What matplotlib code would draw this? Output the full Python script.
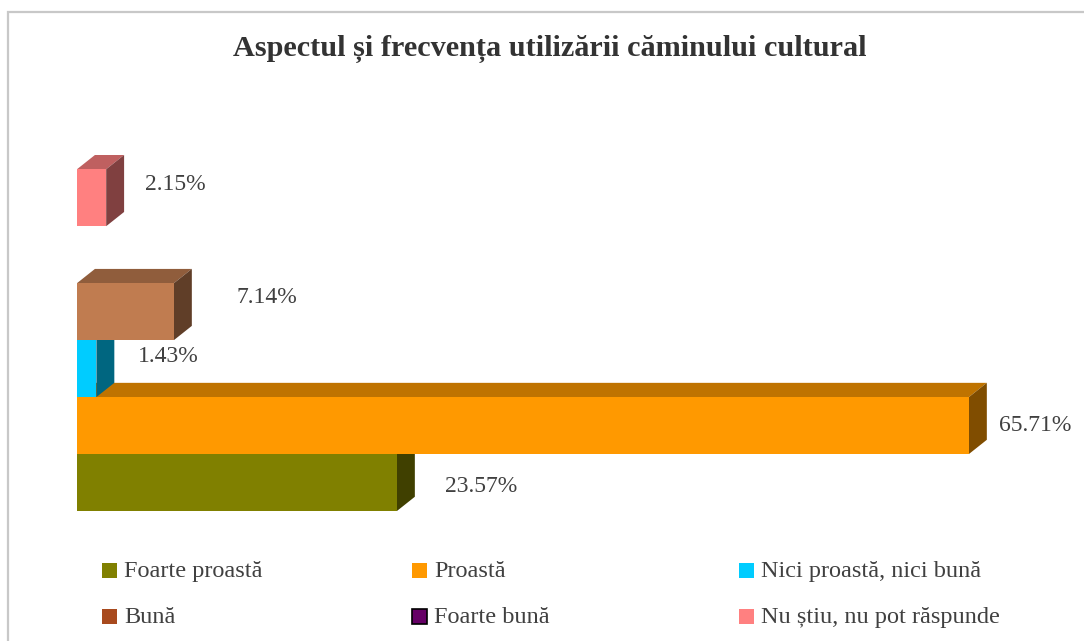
import matplotlib.pyplot as plt
from matplotlib.patches import Polygon, Rectangle
from matplotlib.colors import to_rgb

plt.rcParams['font.family'] = ['Liberation Serif', 'DejaVu Serif']

# data
categories = ['Foarte proastă', 'Proastă', 'Nici proastă, nici bună',
              'Bună', 'Foarte bună', 'Nu știu, nu pot răspunde']
values = [23.57, 65.71, 1.43, 7.14, 0.0, 2.15]
labels = ['23.57%', '65.71%', '1.43%', '7.14%', '', '2.15%']

colors = ['#808000', '#FF9900', '#00CCFF', '#C07C50', '#660066', '#FF8080']
legend_colors = ['#808000', '#FF9900', '#00CCFF', '#A84A1E', '#660066', '#FF8080']
# label shift from the end of the 3d bar, in pixels
label_shift = [(30, -4), (12, 0), (24, 12), (45, 14), (0, 0), (21, 13)]

W, H = 1084, 641
fig = plt.figure(figsize=(W / 100, H / 100), dpi=100)

# chart frame
fig.add_artist(Rectangle((8 / W, -0.2), 1.2, 1.2 - 12 / H, transform=fig.transFigure,
                         fill=False, edgecolor='#c8c8c8', lw=1.6))

fig.text(0.507, 1 - 49 / H, 'Aspectul și frecvența utilizării căminului cultural',
         ha='center', va='center', fontsize=21.8, fontweight='bold', color='#333333')

# plot area in pixels
left, right, bottom, top = 77, 1000, 511, 155
ax = fig.add_axes([left / W, (H - bottom) / H, (right - left) / W, (bottom - top) / H])
ax.set_xlim(0, 68)
ax.set_ylim(-0.5, 5.75)
ax.axis('off')

dx, dy = 1.32, 0.25   # depth of the 3d bars
h = 1.0


def shade(c, f):
    r, g, b = to_rgb(c)
    return (r * f, g * f, b * f)


for i, (v, c) in enumerate(zip(values, colors)):
    if v <= 0:
        continue
    y0, y1 = i - h / 2, i + h / 2
    ax.add_patch(Polygon([(0, y1), (v, y1), (v + dx, y1 + dy), (dx, y1 + dy)],
                         closed=True, facecolor=shade(c, 0.75), edgecolor='none',
                         clip_on=False, zorder=2 * i + 1))
    ax.add_patch(Polygon([(v, y0), (v + dx, y0 + dy), (v + dx, y1 + dy), (v, y1)],
                         closed=True, facecolor=shade(c, 0.5), edgecolor='none',
                         clip_on=False, zorder=2 * i + 1))
    ax.add_patch(Rectangle((0, y0), v, h, facecolor=c, edgecolor='none',
                           clip_on=False, zorder=2 * i + 2))
    ax.annotate(labels[i], (v + dx, i), xytext=label_shift[i], textcoords='offset pixels',
                ha='left', va='center', fontsize=17, color='#404040', zorder=20)

# legend, 2 rows x 3 columns
col_x = [102, 412, 739]
row_y = [570, 616]
for k, (name, c) in enumerate(zip(categories, legend_colors)):
    x = col_x[k % 3]
    y = row_y[k // 3]
    ec = 'black' if name == 'Foarte bună' else 'none'
    fig.add_artist(Rectangle((x / W, (H - y - 7.5) / H), 15 / W, 15 / H,
                             transform=fig.transFigure, facecolor=c, edgecolor=ec, lw=1.2))
    fig.text((x + 22) / W, (H - y - 7) / H, name, ha='left', va='baseline',
             fontsize=17.5, color='#404040')

fig.savefig('out.png', dpi=100)
